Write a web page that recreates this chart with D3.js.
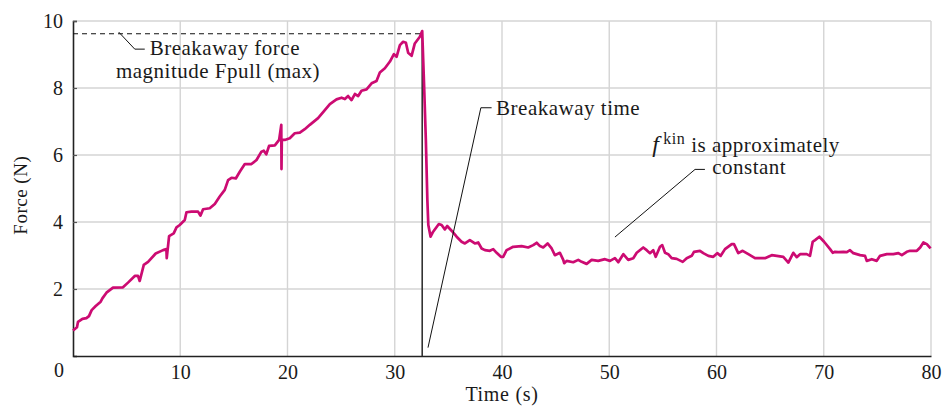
<!doctype html>
<html lang="en">
<head>
<meta charset="utf-8">
<script src="https://d3js.org/d3.v7.min.js"></script>
<title>Force vs time</title>
<style>
  body { margin: 0; background: #fff; }
  svg, svg text { font-family: 'Liberation Serif', 'DejaVu Serif', serif !important; fill: #1a1a1a; }
  .grid line { stroke: #d4d4d4; stroke-width: 1.4; }
  .lbl { font-size: 21px; letter-spacing: 0.5px; }
</style>
</head>
<body>
<div id="chart"></div>
<script>
// time (s) and force (N)
const times = [0, 0.37, 0.47, 0.88, 1.25, 1.49, 1.74, 2.12, 2.58, 2.74, 3.12, 3.73, 4.66, 5.13, 5.76, 6.06, 6.22, 6.6, 7.0, 7.71,
  8.4, 8.71, 8.74, 8.96, 9.39, 9.65, 9.95, 10.42, 10.58, 11.04, 11.66, 11.88, 12.13, 12.75, 13.22, 13.68, 14.15, 14.46, 14.78, 15.18,
  15.55, 16.02, 16.64, 17.11, 17.57, 17.79, 18.02, 18.28, 18.82, 19.22, 19.42, 19.44, 19.47, 19.75, 20.21, 20.68, 21.15, 21.61, 22.08, 22.85,
  23.48, 23.95, 24.57, 25.04, 25.35, 25.65, 25.97, 26.28, 26.59, 26.9, 27.37, 27.84, 28.3, 28.61, 29.08, 29.55, 29.92, 30.17, 30.48, 30.78,
  31.04, 31.25, 31.57, 31.87, 32.34, 32.56, 32.74, 32.9, 33.04, 33.13, 33.34, 33.58, 34.11, 34.37, 34.67, 34.89, 35.3, 35.77, 36.23, 36.54,
  37.0, 37.47, 37.78, 38.1, 38.41, 38.87, 39.18, 39.5, 39.9, 40.11, 40.43, 41.04, 41.83, 42.44, 42.91, 43.23, 43.54, 43.84, 44.25, 44.63,
  44.93, 45.4, 45.71, 45.8, 46.03, 46.64, 47.11, 47.43, 47.89, 48.36, 48.97, 49.6, 50.07, 50.53, 50.84, 51.31, 51.77, 52.24, 52.56, 53.17,
  53.49, 53.8, 54.1, 54.33, 54.73, 54.94, 55.2, 55.5, 55.82, 56.29, 56.85, 57.22, 57.69, 57.9, 58.46, 58.77, 59.24, 59.7, 60.07, 60.39,
  60.79, 61.42, 61.63, 62.03, 62.44, 62.97, 63.59, 64.52, 65.15, 65.62, 66.23, 66.7, 67.16, 67.48, 67.79, 68.41, 68.72, 68.97, 69.19, 69.59,
  70.03, 70.59, 70.84, 71.05, 71.36, 71.83, 72.15, 72.45, 72.76, 73.39, 73.85, 74.01, 74.48, 74.94, 75.25, 75.88, 76.49, 76.96, 77.28, 77.74,
  78.05, 78.68, 78.99, 79.29, 79.61, 79.96];
const forces = [0.76, 0.86, 1.02, 1.11, 1.13, 1.19, 1.37, 1.49, 1.62, 1.72, 1.89, 2.04, 2.05, 2.19, 2.39, 2.39, 2.24, 2.72, 2.81, 3.06,
  3.16, 3.19, 2.92, 3.58, 3.66, 3.84, 3.91, 4.06, 4.29, 4.31, 4.31, 4.19, 4.38, 4.41, 4.54, 4.76, 4.96, 5.25, 5.32, 5.30,
  5.50, 5.73, 5.73, 5.85, 6.10, 6.13, 6.02, 6.27, 6.29, 6.45, 6.90, 5.58, 6.45, 6.45, 6.50, 6.65, 6.67, 6.77, 6.90, 7.10,
  7.34, 7.52, 7.66, 7.71, 7.67, 7.76, 7.64, 7.82, 7.76, 7.92, 7.96, 8.14, 8.21, 8.46, 8.59, 8.79, 9.01, 8.93, 9.28, 9.38,
  9.35, 9.05, 8.96, 9.33, 9.53, 9.70, 8.04, 6.45, 4.66, 3.91, 3.56, 3.71, 3.94, 3.91, 3.78, 3.88, 3.74, 3.56, 3.41, 3.36,
  3.46, 3.36, 3.39, 3.21, 3.16, 3.14, 3.19, 3.08, 2.96, 2.96, 3.16, 3.26, 3.28, 3.24, 3.31, 3.38, 3.28, 3.24, 3.36, 3.21,
  3.01, 3.08, 2.87, 2.77, 2.84, 2.80, 2.87, 2.81, 2.75, 2.87, 2.84, 2.89, 2.84, 2.92, 2.80, 3.04, 2.87, 2.92, 3.08, 3.24,
  3.16, 3.07, 3.16, 2.96, 3.26, 3.31, 3.08, 3.04, 2.92, 2.90, 2.81, 2.92, 2.99, 3.11, 3.14, 3.07, 2.99, 2.96, 3.07, 2.99,
  3.19, 3.34, 3.34, 3.07, 3.14, 3.04, 2.92, 2.92, 3.01, 2.99, 2.96, 2.79, 3.08, 2.95, 3.04, 3.04, 2.99, 3.41, 3.46, 3.56,
  3.41, 3.19, 3.08, 3.11, 3.10, 3.11, 3.10, 3.16, 3.07, 3.01, 2.99, 2.84, 2.89, 2.84, 2.99, 3.04, 3.04, 3.07, 3.01, 3.11,
  3.14, 3.14, 3.24, 3.39, 3.34, 3.21];

const xTicks = [10, 20, 30, 40, 50, 60, 70, 80];
const yTicks = [2, 4, 6, 8, 10];
const peakTime = 32.56, peakForce = 9.7, breakawayLevel = 9.62;

const W = 942, H = 406;
const margin = {top: 21, right: 11, bottom: 50, left: 73};
const FONT = "'Liberation Serif', 'DejaVu Serif', serif";

const svg = d3.select('#chart').append('svg')
  .attr('width', W).attr('height', H)
  .attr('font-family', FONT);

const x = d3.scaleLinear().domain([0, 80]).range([margin.left, W - margin.right]);
const y = d3.scaleLinear().domain([0, 10]).range([H - margin.bottom, margin.top]);

// grid
svg.append('g').attr('class', 'grid')
  .selectAll('line').data(xTicks).join('line')
  .attr('x1', d => x(d)).attr('x2', d => x(d))
  .attr('y1', y(0)).attr('y2', y(10));
svg.append('g').attr('class', 'grid')
  .selectAll('line').data(yTicks).join('line')
  .attr('x1', x(0)).attr('x2', x(80))
  .attr('y1', d => y(d)).attr('y2', d => y(d));

// axes
const xAxis = d3.axisBottom(x).tickValues(xTicks).tickSize(0).tickPadding(9);
const yAxis = d3.axisLeft(y).tickValues(yTicks).tickSize(-4).tickPadding(10);

const gx = svg.append('g').attr('transform', `translate(0,${y(0)})`).call(xAxis);
const gy = svg.append('g').attr('transform', `translate(${x(0)},0)`).call(yAxis);
[gx, gy].forEach(g => {
  g.attr('font-family', FONT).attr('font-size', 20);
  g.select('.domain').attr('stroke', '#222').attr('stroke-width', 1.6);
  g.selectAll('.tick line').attr('stroke', '#555').attr('stroke-width', 1.2);
  g.selectAll('.tick text').attr('fill', '#1a1a1a');
});

// shared origin label
svg.append('text').attr('x', x(0) - 9).attr('y', y(0) + 21)
  .attr('text-anchor', 'end').attr('font-size', 20).text('0');

// axis titles
svg.append('text')
  .attr('x', x(40)).attr('y', H - 5)
  .attr('text-anchor', 'middle').attr('font-size', 20).style('letter-spacing', '0.7px')
  .text('Time (s)');
svg.append('text')
  .attr('transform', `translate(27,${y(4.8)}) rotate(-90)`)
  .attr('text-anchor', 'middle').attr('font-size', 19).style('letter-spacing', '0.5px')
  .text('Force (N)');

// breakaway force dashed level
svg.append('line')
  .attr('x1', x(0)).attr('x2', x(peakTime))
  .attr('y1', y(breakawayLevel)).attr('y2', y(breakawayLevel))
  .attr('stroke', '#111').attr('stroke-width', 1.2).attr('stroke-dasharray', '5,4');

// breakaway vertical
svg.append('line')
  .attr('x1', x(peakTime)).attr('x2', x(peakTime))
  .attr('y1', y(peakForce)).attr('y2', y(0))
  .attr('stroke', '#333').attr('stroke-width', 1.6);

// data line
const pts = times.map((t, i) => [t, forces[i]]);
svg.append('path').datum(pts)
  .attr('fill', 'none')
  .attr('stroke', '#cc0b72')
  .attr('stroke-width', 2.7)
  .attr('stroke-linejoin', 'round')
  .attr('d', d3.line().x(d => x(d[0])).y(d => y(d[1])));

// annotation leaders
const leader = p => svg.append('path')
  .attr('fill', 'none').attr('stroke', '#111').attr('stroke-width', 1)
  .attr('d', d3.line().x(d => x(d[0])).y(d => y(d[1]))(p));

leader([[4.26, 9.67], [5.76, 9.16], [6.69, 9.16]]);
leader([[33.1, 0.25], [38.03, 7.41], [39.03, 7.41]]);
leader([[50.53, 3.55], [58.0, 5.57], [58.92, 5.57]]);

// annotation text
svg.append('text').attr('class', 'lbl').attr('x', x(7.15)).attr('y', y(9.0)).text('Breakaway force');
svg.append('text').attr('class', 'lbl').attr('x', x(4.0)).attr('y', y(8.31)).text('magnitude Fpull (max)');
svg.append('text').attr('class', 'lbl').attr('x', x(39.45)).attr('y', y(7.2)).text('Breakaway time');

const fk = svg.append('text').attr('class', 'lbl').attr('x', x(54.0)).attr('y', y(6.1));
fk.append('tspan').style('font-style', 'italic').style('font-size', '24px').text('f');
fk.append('tspan').attr('dx', 4).attr('dy', -8).style('font-size', '16px').text('kin');
fk.append('tspan').attr('dx', 6).attr('dy', 8).text('is approximately');
svg.append('text').attr('class', 'lbl').attr('x', x(59.6)).attr('y', y(5.43)).text('constant');
</script>
</body>
</html>
